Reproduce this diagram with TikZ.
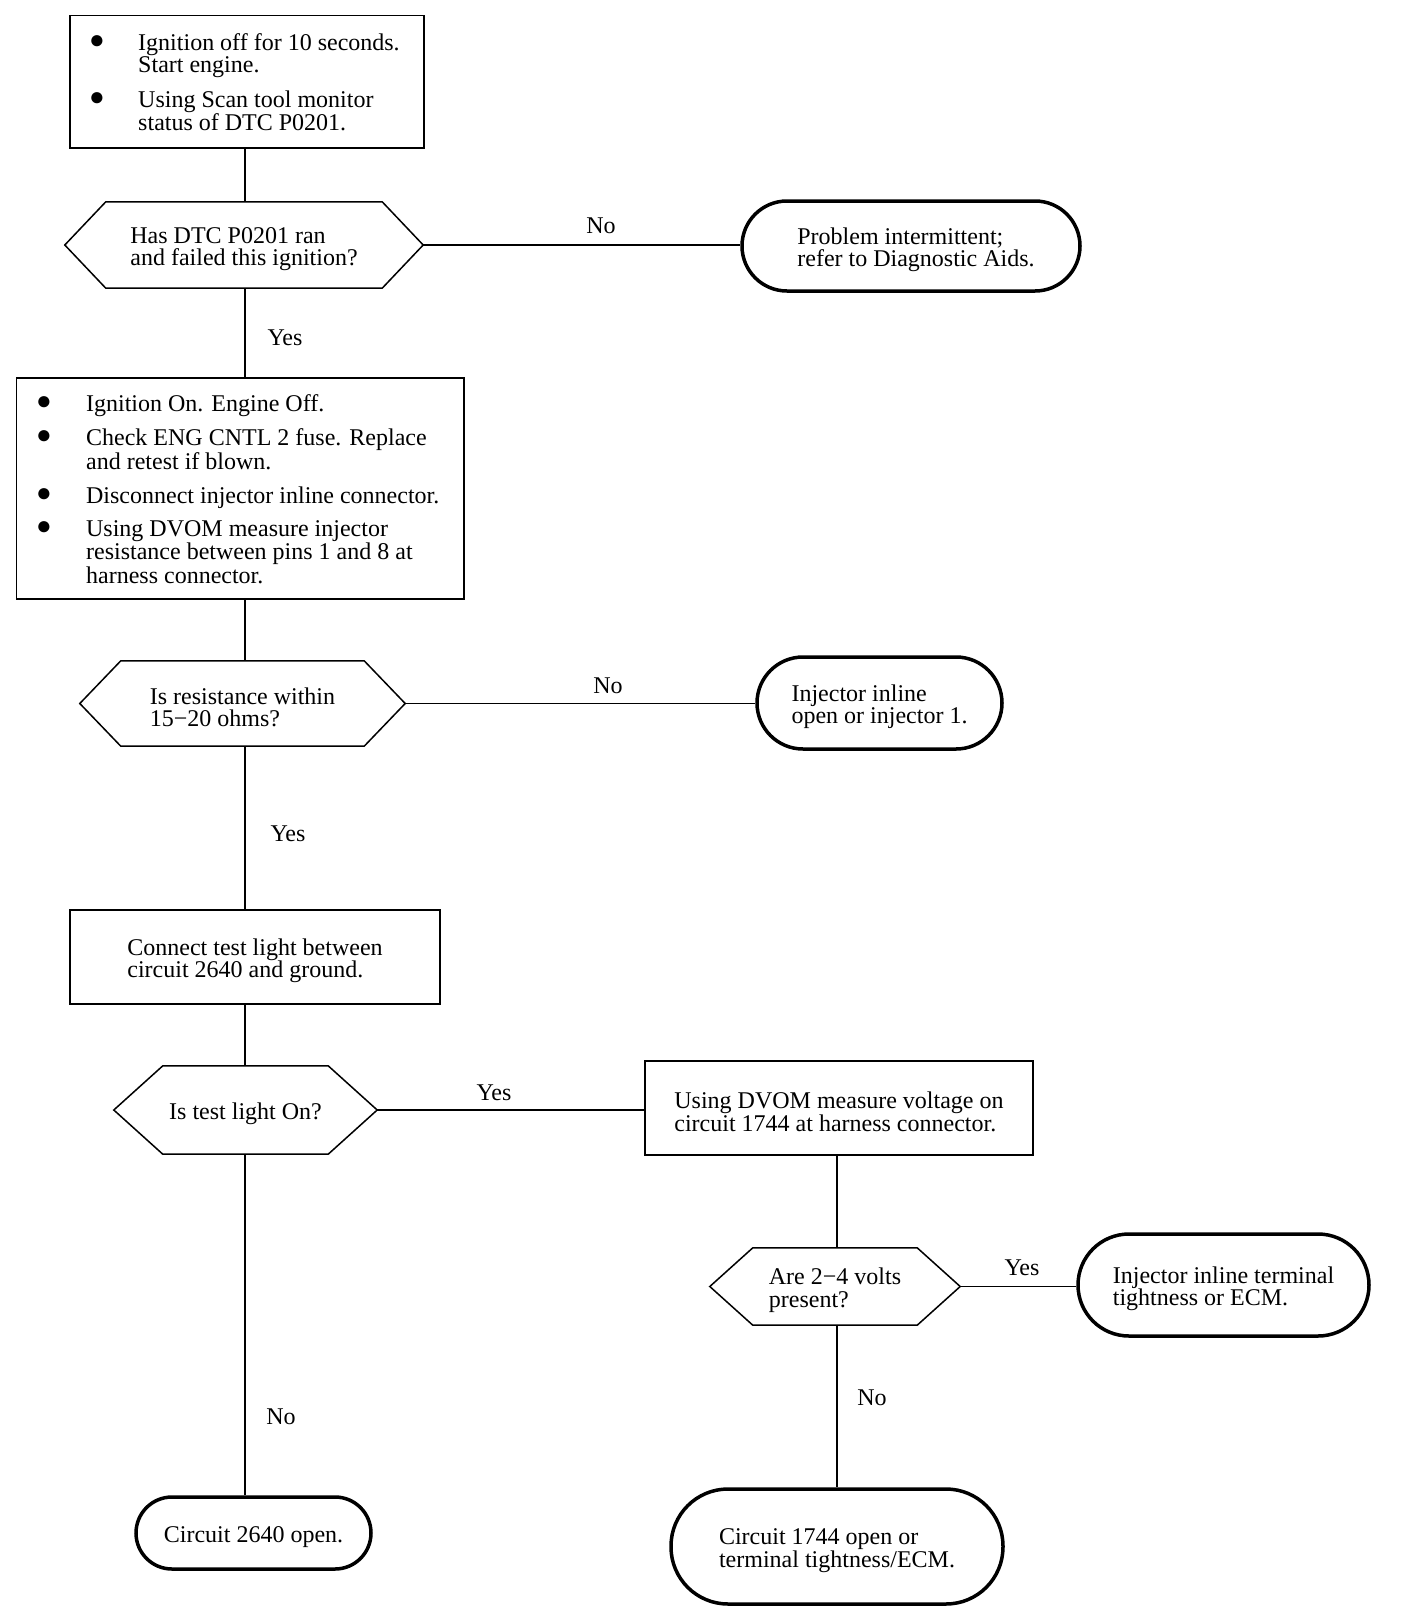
\documentclass[tikz,border=0pt]{standalone}
\usepackage{fontspec}
\usepackage{graphicx}
\setmainfont{Liberation Serif}
\newcommand{\fsz}{\fontsize{24}{22.5}\selectfont}
\newcommand{\fszb}{\fontsize{24}{21.7}\selectfont}
\newcommand{\bul}{\hspace*{-5pt}\raisebox{2pt}[0pt][0pt]{\fontsize{26}{26}\selectfont ●}}
\newcommand{\tst}{\rule{0pt}{24pt}}
\newcommand{\hexa}[2]{\draw[hexline] ([xshift=#2]#1.north west) -- ([xshift=-#2]#1.north east) -- (#1.east) -- ([xshift=-#2]#1.south east) -- ([xshift=#2]#1.south west) -- (#1.west) -- cycle;}
\begin{document}
\begin{tikzpicture}[x=1pt,y=-1pt,
  procbox/.style={draw, line width=1.5pt, inner sep=0pt, font=\fsz, align=left},
  term/.style={draw, line width=3.5pt, inner sep=0pt, font=\fsz, align=left},
  dec/.style={inner sep=0pt, font=\fsz, align=left},
  hexline/.style={line width=1.5pt, line join=miter},
  conn/.style={line width=1.5pt},
  lbl/.style={font=\fsz, inner sep=0pt}]
\useasboundingbox[fill=white] (0,0) rectangle (1408,1620);
\coordinate (sp) at (245,0);
\coordinate (sq) at (837,0);

% boxes
\node[procbox, font=\fszb, minimum width=354, minimum height=132.5] (b1) at (247,81.75)
 {\begin{tabular}{@{}p{44pt}@{}l@{}}
  \bul & \tst Ignition off for 10 seconds.\\
       & Start engine.\\[11.5pt]
  \bul & Using Scan tool monitor\\
       & status of DTC P0201.
  \end{tabular}};
\node[dec, minimum width=358, minimum height=86] (d1) at (244,245)
 {\tst Has DTC P0201 ran\\and failed this ignition?};
\hexa{d1}{41}
\node[term, minimum width=338, minimum height=90, rounded corners=45] (t1) at (911,246)
 {\tst\hspace*{10pt}Problem intermittent;\\\hspace*{10pt}refer to Diagnostic Aids.};

\node[procbox, font=\fszb, minimum width=447.5, minimum height=221] (b2) at (240.25,488.5)
 {\begin{tabular}{@{}p{45pt}@{}l@{}}
  \bul & \tst Ignition On. Engine Off.\\[11pt]
  \bul & Check ENG CNTL 2 fuse. Replace\\
       & and retest if blown.\\[11pt]
  \bul & Disconnect injector inline connector.\\[11pt]
  \bul & Using DVOM measure injector\\
       & resistance between pins 1 and 8 at\\
       & harness connector.
  \end{tabular}};
\node[dec, minimum width=325, minimum height=85] (d2) at (242.5,703.5)
 {\tst Is resistance within\\15−20 ohms?};
\hexa{d2}{41}
\node[term, minimum width=245, minimum height=92, rounded corners=46] (t2) at (879.5,703)
 {\tst Injector inline\\open or injector 1.};

\node[procbox, minimum width=370, minimum height=94] (b3) at (255,957)
 {\tst Connect test light between\\circuit 2640 and ground.};
\node[dec, minimum width=263, minimum height=88] (d3) at (245.5,1110)
 {\tst Is test light On?};
\hexa{d3}{49}
\node[procbox, minimum width=388, minimum height=94] (b4) at (839,1108)
 {\tst Using DVOM measure voltage on\\circuit 1744 at harness connector.};
\node[dec, minimum width=250, minimum height=77] (d4) at (835,1286.5)
 {\tst Are 2−4 volts\\present?};
\hexa{d4}{43}
\node[term, minimum width=291, minimum height=102, rounded corners=51] (t3) at (1223.5,1285)
 {\tst Injector inline terminal\\tightness or ECM.};
\node[term, minimum width=332, minimum height=115, rounded corners=57] (t4) at (837,1546.5)
 {\tst Circuit 1744 open or\\terminal tightness/ECM.};
\node[term, minimum width=235, minimum height=72, rounded corners=36] (t5) at (253.5,1533)
 {\tst Circuit 2640 open.};

% connectors
\draw[conn] (b1.south -| sp) -- (d1.north -| sp);
\draw[conn] (d1.east) -- (d1.east -| t1.west);
\draw[conn] (d1.south -| sp) -- (b2.north -| sp);
\draw[conn] (b2.south -| sp) -- (d2.north -| sp);
\draw[conn] (d2.east) -- (d2.east -| t2.west);
\draw[conn] (d2.south -| sp) -- (b3.north -| sp);
\draw[conn] (b3.south -| sp) -- (d3.north -| sp);
\draw[conn] (d3.east) -- (d3.east -| b4.west);
\draw[conn] (d3.south -| sp) -- (t5.north -| sp);
\draw[conn] (b4.south -| sq) -- (d4.north -| sq);
\draw[conn] (d4.east) -- (d4.east -| t3.west);
\draw[conn] (d4.south -| sq) -- (t4.north -| sq);

% labels
\node[lbl] (l1) at (601,226) {No};
\node[lbl] (l2) at (285,338) {Yes};
\node[lbl] (l3) at (608,686) {No};
\node[lbl] (l4) at (288,834) {Yes};
\node[lbl] (l5) at (494,1093) {Yes};
\node[lbl] (l6) at (1022,1268) {Yes};
\node[lbl] (l7) at (872,1398) {No};
\node[lbl] (l8) at (281,1417) {No};
\end{tikzpicture}
\end{document}
